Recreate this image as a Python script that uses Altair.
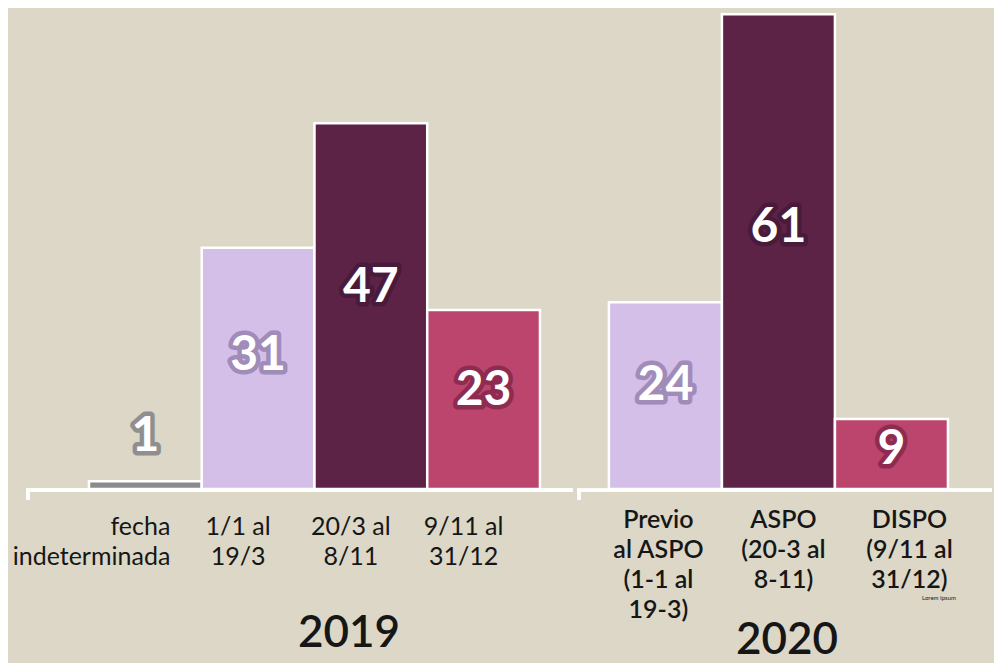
import altair as alt
import pandas as pd

# ---- data ----
keys_2019 = ["k0", "k1", "k2", "k3"]
labels_2019 = ["fecha\nindeterminada", "1/1 al\n19/3", "20/3 al\n8/11", "9/11 al\n31/12"]
values_2019 = [1, 31, 47, 23]
kinds_2019 = ["indet", "pre", "aspo", "dispo"]

keys_2020 = ["m0", "m1", "m2"]
labels_2020 = ["Previo\nal ASPO\n(1-1 al\n19-3)", "ASPO\n(20-3 al\n8-11)", "DISPO\n(9/11 al\n31/12)"]
values_2020 = [24, 61, 9]
kinds_2020 = ["pre", "aspo", "dispo"]

years = ["2019", "2020"]
note = ["Lorem Ipsum"]

kind_domain = ["indet", "pre", "aspo", "dispo"]
bar_colors = ["#8b8b8b", "#d4bfe9", "#5c2347", "#bb456d"]
outline_colors = ["#8f8f8f", "#a08bb9", "#4a1a3a", "#8e2b50"]

BG = "#dcd7c7"
TXT = "#161616"
H = 481
W1, W2 = 547, 415
YMAX = 61.8

df19 = pd.DataFrame({"key": keys_2019, "label": labels_2019, "v": values_2019, "kind": kinds_2019})
df20 = pd.DataFrame({"key": keys_2020, "label": labels_2020, "v": values_2020, "kind": kinds_2020})

yscale = alt.Scale(domain=[0, YMAX], nice=False, zero=True)
cscale = alt.Scale(domain=kind_domain, range=bar_colors)
oscale = alt.Scale(domain=kind_domain, range=outline_colors)


def panel(df, keys, width, pad_outer, align, label_layers, year, year_pos, extra=None):
    xs = alt.X("key:N", sort=keys, axis=None,
               scale=alt.Scale(paddingInner=0, paddingOuter=pad_outer, align=align))
    base = alt.Chart(df).encode(x=xs)
    bars = base.mark_bar(stroke="white", strokeWidth=2.5).encode(
        y=alt.Y("v:Q", scale=yscale, axis=None),
        color=alt.Color("kind:N", scale=cscale, legend=None),
    )
    big = base.transform_filter("datum.v >= 5").transform_calculate(ly="datum.v * 0.55")
    small = base.transform_filter("datum.v < 5")
    num_style = dict(font="Lato", fontSize=48, fontWeight="bold")
    num_out = big.mark_text(baseline="middle", strokeWidth=9, strokeJoin="round", **num_style).encode(
        y=alt.Y("ly:Q", scale=yscale),
        text=alt.Text("v:Q"),
        color=alt.Color("kind:N", scale=oscale, legend=None),
        stroke=alt.Stroke("kind:N", scale=oscale, legend=None),
    )
    num_in = big.mark_text(baseline="middle", color="white", **num_style).encode(
        y=alt.Y("ly:Q", scale=yscale), text=alt.Text("v:Q"))
    sm_out = small.mark_text(baseline="alphabetic", dy=-30, strokeWidth=9, strokeJoin="round", **num_style).encode(
        y=alt.Y("v:Q", scale=yscale),
        text=alt.Text("v:Q"),
        color=alt.Color("kind:N", scale=oscale, legend=None),
        stroke=alt.Stroke("kind:N", scale=oscale, legend=None),
    )
    sm_in = small.mark_text(baseline="alphabetic", dy=-30, color="white", **num_style).encode(
        y=alt.Y("v:Q", scale=yscale), text=alt.Text("v:Q"))

    axis_line = alt.Chart(df).mark_rule(color="white", strokeWidth=3).encode(
        x=alt.value(0), x2=alt.value(width), y=alt.value(H + 1))
    tick = alt.Chart(df).mark_rule(color="white", strokeWidth=3).encode(
        x=alt.value(2), y=alt.value(H + 1), y2=alt.value(H + 11))

    layers = [bars, axis_line, tick, num_out, num_in, sm_out, sm_in]
    for flt, ypix, kw in label_layers:
        src = base.transform_filter(flt) if flt else base
        layers.append(src.mark_text(lineBreak="\n", baseline="alphabetic", color=TXT, **kw).encode(
            y=alt.value(ypix), text="label:N"))
    yr = alt.Chart(pd.DataFrame({"year": [year]})).mark_text(
        font="Lato", fontSize=44, fontWeight=600, baseline="alphabetic", color=TXT).encode(
        x=alt.value(year_pos[0]), y=alt.value(year_pos[1]), text="year:N")
    layers.append(yr)
    if extra is not None:
        layers.append(extra)
    return alt.layer(*layers).properties(width=width, height=H)


l19a = dict(font="Lato", fontSize=25, lineHeight=30, align="right", dx=25)
l19b = dict(font="Lato", fontSize=25, lineHeight=30, align="center", dx=-20)
l20a = dict(font="Lato", fontSize=25, lineHeight=30, align="center", dx=-7, fontWeight=600)
l20b = dict(font="Lato", fontSize=25, lineHeight=30, align="center", dx=5, fontWeight=600)
l20c = dict(font="Lato", fontSize=25, lineHeight=30, align="center", dx=18, fontWeight=600)

lorem = alt.Chart(pd.DataFrame({"t": note})).mark_text(
    font="Lato", fontSize=6, color=TXT, baseline="alphabetic").encode(
    x=alt.value(362), y=alt.value(592), text="t:N")

p1 = panel(df19, keys_2019, W1, 0.4257, 0.656,
           [("datum.key == 'k0'", 527, l19a), ("datum.key != 'k0'", 527, l19b)],
           years[0], (323, 639))
p2 = panel(df20, keys_2020, W2, 0.336, 0.42,
           [("datum.key == 'm0'", 520, l20a), ("datum.key == 'm1'", 520, l20b),
            ("datum.key == 'm2'", 520, l20c)],
           years[1], (210, 646), extra=lorem)

chart = alt.hconcat(p1, p2, spacing=0).properties(
    padding={"left": 4, "top": 0, "right": 0, "bottom": 0},
    background=BG,
).configure_view(stroke=None)

chart.save("out.html", embed_options={"renderer": "svg", "actions": False})
